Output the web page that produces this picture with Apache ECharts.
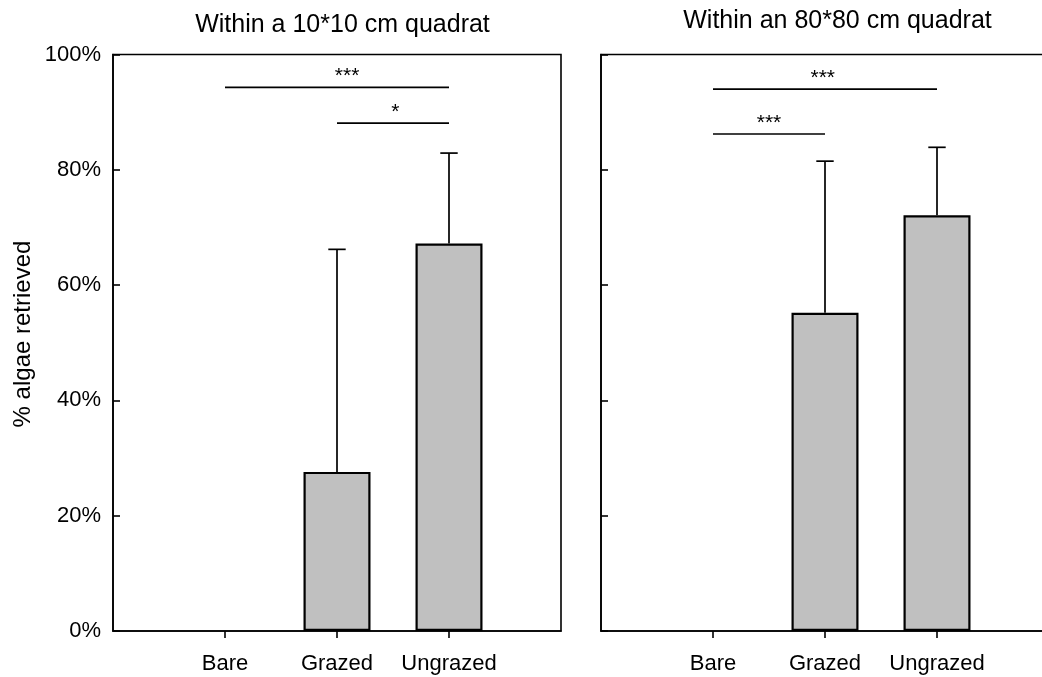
<!DOCTYPE html>
<html>
<head>
<meta charset="utf-8">
<script src="https://cdn.jsdelivr.net/npm/echarts@6/dist/echarts.min.js"></script>
<style>
  html, body { margin: 0; padding: 0; background: #fff; }
  #chart { width: 1042px; height: 677px; }
</style>
</head>
<body>
<div id="chart"></div>
<script>
// Treatments on the x axis (placed at 1, 2, 3 on a 0–4 scale)
const categories = ['Bare', 'Grazed', 'Ungrazed'];
const categoryPos = [1, 2, 3];

// Panel titles
const panelTitles = ['Within a 10*10 cm quadrat', 'Within an 80*80 cm quadrat'];
const yAxisTitle = '% algae retrieved';

// Mean % retrieved and upper error (both in %)
const smallMeans = [0, 27.6, 67.2];
const smallErr = [0, 38.6, 15.7];
const bigMeans = [0, 55.2, 72.1];
const bigErr = [0, 26.3, 11.8];

// Significance brackets: from, to, height (%), star text x
const smallSigFrom = [1, 2];
const smallSigTo = [3, 3];
const smallSigY = [94.3, 88.1];
const smallSigTextX = [2.09, 2.52];
const smallSigText = ['***', '*'];

const bigSigFrom = [1, 1];
const bigSigTo = [3, 2];
const bigSigY = [94.0, 86.2];
const bigSigTextX = [1.98, 1.5];
const bigSigText = ['***', '***'];

const FONT = 'Liberation Sans, Arial, sans-serif';

function barData(means) {
  return categoryPos.map((x, i) => means[i] > 0 ? [x, means[i]] : [x, '-']);
}
function errData(means, errs) {
  return categoryPos
    .map((x, i) => [x, means[i], means[i] + errs[i]])
    .filter(d => d[2] > d[1]);
}
function sigData(from, to, y, tx) {
  return from.map((f, i) => [f, to[i], y[i], tx[i]]);
}

function errorRender(params, api) {
  const x = api.value(0);
  const base = api.coord([x, api.value(1)]);
  const top = api.coord([x, api.value(2)]);
  const cap = 8.7;
  const style = { stroke: '#000', lineWidth: 1.7 };
  return {
    type: 'group',
    children: [
      { type: 'line', shape: { x1: base[0], y1: base[1], x2: top[0], y2: top[1] }, style },
      { type: 'line', shape: { x1: top[0] - cap, y1: top[1], x2: top[0] + cap, y2: top[1] }, style }
    ]
  };
}

function sigRenderFactory(texts) {
  return function (params, api) {
    const a = api.coord([api.value(0), api.value(2)]);
    const b = api.coord([api.value(1), api.value(2)]);
    const t = api.coord([api.value(3), api.value(2)]);
    return {
      type: 'group',
      children: [
        { type: 'line', shape: { x1: a[0], y1: a[1], x2: b[0], y2: b[1] },
          style: { stroke: '#000', lineWidth: 1.6 } },
        { type: 'text', x: t[0], y: t[1] - 11,
          style: { text: texts[params.dataIndex], fill: '#000', font: '21px ' + FONT,
                   align: 'center', verticalAlign: 'middle' } }
      ]
    };
  };
}

function xAxisFor(gridIndex) {
  return {
    type: 'value', gridIndex, min: 0, max: 4, interval: 1,
    axisLine: { show: true, lineStyle: { color: '#000', width: 1.6 } },
    axisTick: { show: true, inside: false, length: 7, customValues: categoryPos,
                lineStyle: { color: '#000', width: 1.6 } },
    axisLabel: { show: true, customValues: categoryPos, margin: 22,
                 color: '#000', fontSize: 22, fontFamily: FONT,
                 formatter: v => categories[categoryPos.indexOf(v)] || '' },
    splitLine: { show: false }
  };
}
function yAxisFor(gridIndex, showLabels) {
  return {
    type: 'value', gridIndex, min: 0, max: 100, interval: 20,
    axisLine: { show: true, lineStyle: { color: '#000', width: 1.6 } },
    axisTick: { show: true, inside: true, length: 7, lineStyle: { color: '#000', width: 1.6 } },
    axisLabel: { show: showLabels, margin: 12, color: '#000', fontSize: 22, fontFamily: FONT,
                 formatter: v => v + '%' },
    splitLine: { show: false }
  };
}

const chart = echarts.init(document.getElementById('chart'), null, { renderer: 'canvas' });

chart.setOption({
  animation: false,
  backgroundColor: '#fff',
  title: [
    { text: panelTitles[0], left: 337.5, top: 8, textAlign: 'center',
      textStyle: { fontSize: 25, fontWeight: 'normal', color: '#000', fontFamily: FONT } },
    { text: panelTitles[1], left: 832.5, top: 4, textAlign: 'center',
      textStyle: { fontSize: 25, fontWeight: 'normal', color: '#000', fontFamily: FONT } }
  ],
  graphic: [
    { type: 'text', x: 23, y: 334, rotation: Math.PI / 2,
      style: { text: yAxisTitle, fill: '#000', font: '24px ' + FONT,
               align: 'center', verticalAlign: 'middle' } }
  ],
  grid: [
    { left: 113, top: 54.5, width: 448, height: 576.5, show: true, outerBoundsMode: 'none',
      borderColor: '#000', borderWidth: 1.6, backgroundColor: 'transparent' },
    { left: 601, top: 54.5, width: 448, height: 576.5, show: true, outerBoundsMode: 'none',
      borderColor: '#000', borderWidth: 1.6, backgroundColor: 'transparent' }
  ],
  xAxis: [xAxisFor(0), xAxisFor(1)],
  yAxis: [yAxisFor(0, true), yAxisFor(1, false)],
  series: [
    { type: 'bar', xAxisIndex: 0, yAxisIndex: 0, barWidth: 67, data: barData(smallMeans),
      itemStyle: { color: '#c0c0c0', borderColor: '#000', borderWidth: 2.2 } },
    { type: 'bar', xAxisIndex: 1, yAxisIndex: 1, barWidth: 67, data: barData(bigMeans),
      itemStyle: { color: '#c0c0c0', borderColor: '#000', borderWidth: 2.2 } },
    { type: 'custom', xAxisIndex: 0, yAxisIndex: 0, renderItem: errorRender,
      encode: { x: 0, y: [1, 2] }, data: errData(smallMeans, smallErr), z: 1 },
    { type: 'custom', xAxisIndex: 1, yAxisIndex: 1, renderItem: errorRender,
      encode: { x: 0, y: [1, 2] }, data: errData(bigMeans, bigErr), z: 1 },
    { type: 'custom', xAxisIndex: 0, yAxisIndex: 0, renderItem: sigRenderFactory(smallSigText),
      encode: { x: [0, 1, 3], y: 2 }, data: sigData(smallSigFrom, smallSigTo, smallSigY, smallSigTextX) },
    { type: 'custom', xAxisIndex: 1, yAxisIndex: 1, renderItem: sigRenderFactory(bigSigText),
      encode: { x: [0, 1, 3], y: 2 }, data: sigData(bigSigFrom, bigSigTo, bigSigY, bigSigTextX) }
  ]
});
</script>
</body>
</html>
